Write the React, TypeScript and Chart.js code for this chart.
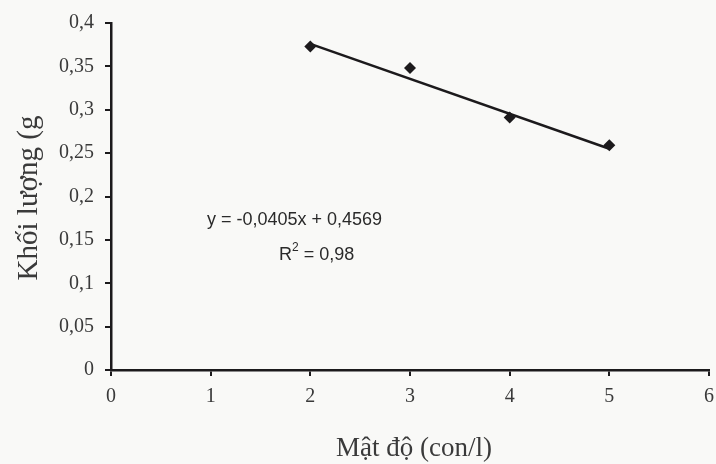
import React, { useEffect, useRef } from "react";
import { Chart, registerables } from "chart.js";

Chart.register(...registerables);

const densities = [2, 3, 4, 5];
const weights = [0.373, 0.348, 0.291, 0.259];
const trendX = [2, 5];
const trendY = [0.376, 0.255];
const xTicks = [0, 1, 2, 3, 4, 5, 6];
const yTicks = [0, 0.05, 0.1, 0.15, 0.2, 0.25, 0.3, 0.35, 0.4];
const xTitle = "Mật độ (con/l)";
const yTitle = "Khối lượng (g";
const equation = "y = -0,0405x + 0,4569";
const rSquared = "0,98";

const INK = "#1c1a1c";
const LABEL = "#3a3a3a";

const textPlugin = {
  id: "texts",
  beforeDraw(chart: any) {
    const ctx = chart.ctx;
    ctx.save();
    ctx.fillStyle = "#f9f9f7";
    ctx.fillRect(0, 0, chart.width, chart.height);
    ctx.restore();
  },
  afterDraw(chart: any) {
    const ctx = chart.ctx;
    ctx.save();
    ctx.fillStyle = LABEL;
    // x title
    ctx.font = '27px "Liberation Serif"';
    ctx.textAlign = "center";
    ctx.textBaseline = "alphabetic";
    ctx.fillText(xTitle, 414, 456);
    // y title
    ctx.save();
    ctx.translate(37, 198);
    ctx.rotate(-Math.PI / 2);
    ctx.font = '29px "Liberation Serif"';
    ctx.textAlign = "center";
    ctx.fillText(yTitle, 0, 0);
    ctx.restore();
    // equation
    ctx.fillStyle = "#2a2a2a";
    ctx.font = '18px "Liberation Sans"';
    ctx.textAlign = "left";
    ctx.fillText(equation, 207, 225);
    ctx.fillText("R", 279, 260);
    const rw = ctx.measureText("R").width;
    ctx.font = '12px "Liberation Sans"';
    ctx.fillText("2", 279 + rw, 251);
    const sw = ctx.measureText("2").width;
    ctx.font = '18px "Liberation Sans"';
    ctx.fillText(" = " + rSquared, 279 + rw + sw, 260);
    ctx.restore();
  },
};

export default function App() {
  const ref = useRef<HTMLCanvasElement>(null);
  useEffect(() => {
    document.body.style.margin = "0";
    const canvas = ref.current!;
    const chart = new Chart(canvas, {
      type: "scatter",
      data: {
        datasets: [
          {
            data: trendX.map((x, i) => ({ x, y: trendY[i] })),
            showLine: true,
            borderColor: INK,
            borderWidth: 2.5,
            pointRadius: 0,
            order: 2,
          },
          {
            data: densities.map((x, i) => ({ x, y: weights[i] })),
            pointStyle: "rectRot",
            pointRadius: 6,
            backgroundColor: INK,
            borderColor: INK,
            borderWidth: 0,
            order: 1,
          },
        ],
      },
      options: {
        animation: false,
        responsive: false,
        events: [],
        layout: { padding: { left: 0, top: 23, right: 7, bottom: 0 } },
        plugins: { legend: { display: false }, tooltip: { enabled: false } },
        scales: {
          x: {
            type: "linear",
            min: 0,
            max: 6,
            afterBuildTicks: (s: any) => {
              s.ticks = xTicks.map((v) => ({ value: v }));
            },
            afterFit: (s: any) => {
              s.height = 94;
              s.paddingLeft = 0;
              s.paddingRight = 0;
            },
            ticks: {
              color: LABEL,
              font: { family: '"Liberation Serif"', size: 20 },
              padding: 9,
              callback: (v: any) => String(v),
            },
            grid: {
              display: true,
              drawOnChartArea: false,
              drawTicks: true,
              tickLength: 6,
              color: INK,
              lineWidth: 2,
            },
            border: { display: true, color: INK, width: 2.5 },
          },
          y: {
            type: "linear",
            min: 0,
            max: 0.4,
            afterBuildTicks: (s: any) => {
              s.ticks = yTicks.map((v) => ({ value: v }));
            },
            afterFit: (s: any) => {
              s.width = 111;
              s.paddingTop = 0;
              s.paddingBottom = 0;
            },
            ticks: {
              color: LABEL,
              font: { family: '"Liberation Serif"', size: 20 },
              padding: 11,
              callback: (v: any) => String(Math.round(Number(v) * 100) / 100).replace(".", ","),
            },
            grid: {
              display: true,
              drawOnChartArea: false,
              drawTicks: true,
              tickLength: 6,
              color: INK,
              lineWidth: 2,
            },
            border: { display: true, color: INK, width: 2.5 },
          },
        },
      },
      plugins: [textPlugin],
    });
    return () => chart.destroy();
  }, []);
  return <canvas ref={ref} width={716} height={464} style={{ display: "block" }} />;
}
